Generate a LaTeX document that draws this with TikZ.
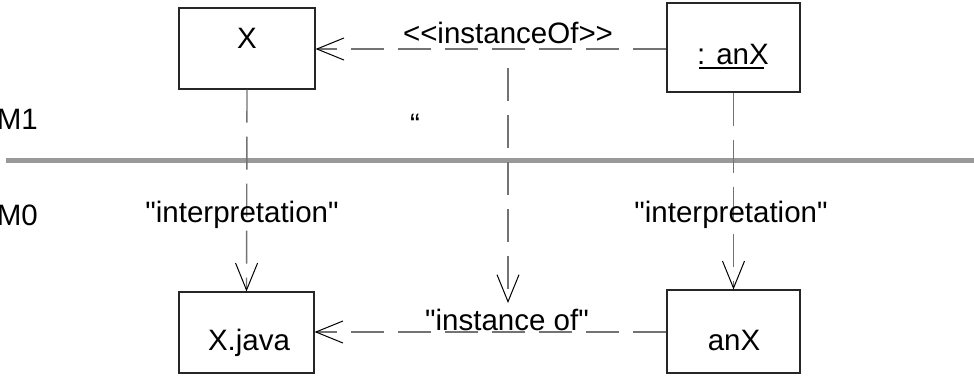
\documentclass[tikz,border=0pt]{standalone}
\usepackage{fontspec}
\setmainfont{Liberation Sans}[Ligatures=TeXOff]
\usetikzlibrary{arrows.meta}
\begin{document}
\begin{tikzpicture}[x=1pt,y=-1pt,
  box/.style={draw=black!85,line width=1.2pt,fill=white,inner sep=0pt},
  txt/.style={inner sep=0pt,anchor=base,font=\fontsize{29.5}{32}\selectfont},
  dep/.style={draw=black!55,line width=1.4pt,dash pattern=on 33pt off 14pt,
    -{Straight Barb[length=27pt,width=22pt,line width=1pt,color=black]}},
  band/.style={draw=black!40,line width=5pt}]
\fill[white] (0,0) rectangle (974,381);
\useasboundingbox (0,0) rectangle (974,381);
% boxes
\node[box,minimum width=136pt,minimum height=81pt] (X) at (247,48.5) {};
\node[box,minimum width=133pt,minimum height=89pt] (A) at (733.5,47.5) {};
\node[box,minimum width=135pt,minimum height=81pt] (XJ) at (246.5,332.5) {};
\node[box,minimum width=133pt,minimum height=83pt] (B) at (733.5,331.5) {};
% box texts
\node[txt] (Xt) at (247,48) {X};
\node[txt] (At) at (733,64) {: anX};
\draw[line width=2.5pt] ([yshift=-4pt,xshift=2pt]At.base west) -- ([yshift=-4pt,xshift=-5pt]At.base east);
\node[txt] (XJt) at (249,350) {X.java};
\node[txt] (Bt) at (734,350) {anX};
% level labels
\node[txt,anchor=base east] (M1) at (38,129) {M1};
\node[txt,anchor=base east] (M0) at (38,225) {M0};
\node[txt] (q) at (415,134) {“};
% separator
\coordinate (s1) at (6,160);
\coordinate (s2) at (974,160);
\draw[band] (s1) -- (s2);
% connectors
\draw[dep] (A.west |- 0,49) -- (X.east |- 0,49);
\node[txt] (io) at (508,43) {<<instanceOf>>};
\draw[dep] (X.south) -- (XJ.north);
\draw[dep] (A.south) -- (B.north);
\node[txt] (i1) at (242,222) {"interpretation"};
\node[txt] (i2) at (731,222) {"interpretation"};
\draw[dep] (B.west |- 0,332) -- (XJ.east |- 0,332);
\node[txt] (io2) at (507,330) {"instance of"};
\coordinate (m1) at (508,68);
\coordinate (m2) at (508,303);
\draw[dep] (m1) -- (m2);
\end{tikzpicture}
\end{document}
